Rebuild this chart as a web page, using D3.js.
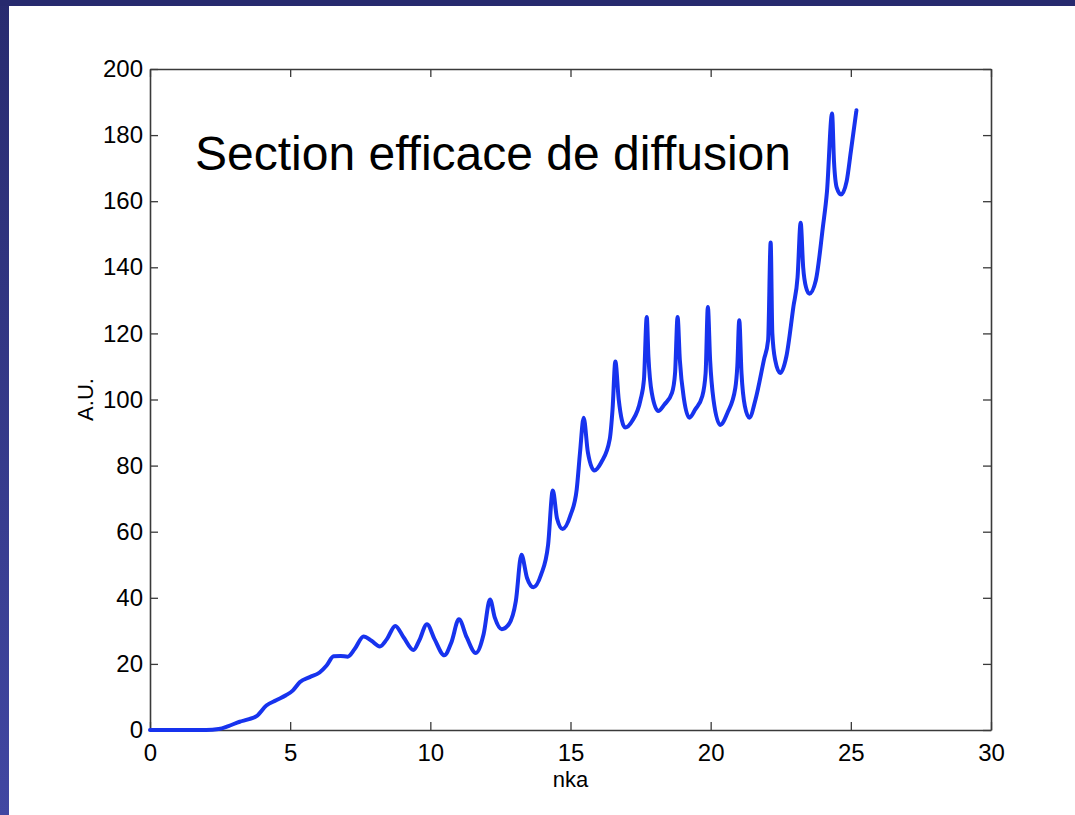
<!DOCTYPE html>
<html>
<head>
<meta charset="utf-8">
<script src="https://cdn.jsdelivr.net/npm/d3@7"></script>
<style>
  html, body { margin: 0; padding: 0; background: #fff; }
  svg { display: block; }
</style>
</head>
<body>
<script>
// Scattering cross-section versus nka (arbitrary units)
const nka = [
  0, 1, 2, 2.45, 2.8, 3.2, 3.5, 3.8, 4.15, 4.5, 4.85, 5.1, 5.35, 5.7, 6.05, 6.3, 6.55, 6.8, 7.05, 7.3,
  7.62, 7.9, 8.2, 8.45, 8.75, 9.05, 9.4, 9.6, 9.88, 10.15, 10.5, 10.75, 11.02, 11.3, 11.62, 11.9,
  12.13, 12.3, 12.55, 12.8, 13.05, 13.25, 13.45, 13.68, 13.95, 14.2, 14.37, 14.52, 14.72, 15.0,
  15.22, 15.34, 15.47, 15.62, 15.85, 16.1, 16.4, 16.5, 16.6, 16.72, 16.95, 17.2, 17.5, 17.62,
  17.72, 17.78, 17.9, 18.13, 18.35, 18.62, 18.73, 18.82, 18.9, 19.05, 19.24, 19.45, 19.7, 19.82,
  19.9, 19.98, 20.1, 20.34, 20.6, 20.88, 20.95, 21.02, 21.1, 21.22, 21.38, 21.6, 21.9, 22.05,
  22.14, 22.2, 22.3, 22.48, 22.7, 22.95, 23.1, 23.21, 23.3, 23.4, 23.52, 23.75, 24.0, 24.15,
  24.33, 24.4, 24.5, 24.65, 24.85, 25.0, 25.2
];
const sigma = [
  0, 0, 0, 0.3, 1.2, 2.5, 3.2, 4.2, 7.4, 9.0, 10.5, 12.0, 14.5, 16.0, 17.4, 19.5, 22.3, 22.4, 22.2, 24.5,
  28.3, 27.0, 25.3, 27.5, 31.5, 28.0, 24.2, 27.0, 32.0, 27.5, 22.6, 26.5, 33.5, 28.0, 23.3, 29.0,
  39.5, 34.0, 30.5, 32.0, 39.0, 53.0, 46.0, 43.2, 47.0, 56.0, 72.5, 64.0, 60.8, 65.0,
  72.7, 84.0, 94.5, 84.0, 78.5, 81.0, 88.0, 97.0, 111.5, 100.0, 91.5, 93.5, 100.0, 106.0,
  125.0, 113.0, 102.0, 96.5, 98.5, 102.0, 108.0, 125.0, 112.0, 100.0, 94.5, 97.0, 101.0, 108.0,
  128.0, 112.0, 100.0, 92.3, 96.0, 103.5, 110.0, 124.0, 108.0, 98.0, 94.5, 100.0, 112.0, 118.0,
  147.5, 120.0, 112.0, 108.0, 113.0, 128.0, 137.0, 153.5, 140.0, 134.0, 132.0, 136.0, 152.0, 163.0,
  186.5, 172.0, 164.0, 162.0, 166.0, 175.0, 187.5
];
const xTicks = [0, 5, 10, 15, 20, 25, 30];
const yTicks = [0, 20, 40, 60, 80, 100, 120, 140, 160, 180, 200];
const titleText = "Section efficace de diffusion";
const xLabel = "nka";
const yLabel = "A.U.";

const W = 1075, H = 815;
const plot = { left: 150, right: 991, top: 69, bottom: 730 };

const svg = d3.select("body").append("svg")
  .attr("width", W).attr("height", H);

// slide frame
const defs = svg.append("defs");
const grad = defs.append("linearGradient").attr("id", "frameGrad")
  .attr("x1", 0).attr("y1", 0).attr("x2", 0).attr("y2", 1);
grad.append("stop").attr("offset", "0%").attr("stop-color", "#282b6f");
grad.append("stop").attr("offset", "100%").attr("stop-color", "#4147a2");

svg.append("rect").attr("width", W).attr("height", H).attr("fill", "#ffffff");
svg.append("rect").attr("x", 0).attr("y", 0).attr("width", 9).attr("height", H).attr("fill", "url(#frameGrad)");
svg.append("rect").attr("x", 0).attr("y", 0).attr("width", W).attr("height", 6).attr("fill", "#272a6e");

const x = d3.scaleLinear().domain([0, 30]).range([plot.left, plot.right]);
const y = d3.scaleLinear().domain([0, 200]).range([plot.bottom, plot.top]);

const axisColor = "#3a3a3a";
const tickLen = 8;
const font = "Arial, 'Liberation Sans', Helvetica, sans-serif";

// bottom axis with labels
const gx = svg.append("g").attr("transform", `translate(0,${plot.bottom})`)
  .call(d3.axisBottom(x).tickValues(xTicks).tickSizeInner(-tickLen).tickSizeOuter(0).tickPadding(14).tickFormat(d3.format("d")));
// top axis mirrored ticks
const gxt = svg.append("g").attr("transform", `translate(0,${plot.top})`)
  .call(d3.axisTop(x).tickValues(xTicks).tickSizeInner(-tickLen).tickSizeOuter(0).tickFormat(""));
// left axis with labels
const gy = svg.append("g").attr("transform", `translate(${plot.left},0)`)
  .call(d3.axisLeft(y).tickValues(yTicks).tickSizeInner(-tickLen).tickSizeOuter(0).tickPadding(7).tickFormat(d3.format("d")));
// right axis mirrored ticks
const gyr = svg.append("g").attr("transform", `translate(${plot.right},0)`)
  .call(d3.axisRight(y).tickValues(yTicks).tickSizeInner(-tickLen).tickSizeOuter(0).tickFormat(""));

[gx, gxt, gy, gyr].forEach(g => {
  g.select(".domain").attr("stroke", axisColor).attr("stroke-width", 1.6);
  g.selectAll(".tick line").attr("stroke", axisColor).attr("stroke-width", 1.3);
  g.selectAll(".tick text").attr("fill", "#000").attr("font-family", font).attr("font-size", 24);
});

// data curve
const pts = nka.map((v, i) => [v, sigma[i]]);
const line = d3.line()
  .x(d => x(d[0])).y(d => y(d[1]))
  .curve(d3.curveMonotoneX);
svg.append("path").datum(pts)
  .attr("d", line)
  .attr("fill", "none")
  .attr("stroke", "#1733ee")
  .attr("stroke-width", 4)
  .attr("stroke-linejoin", "round")
  .attr("stroke-linecap", "round");

// title inside the axes
svg.append("text")
  .attr("x", 195).attr("y", 170)
  .attr("font-family", font).attr("font-size", 48)
  .attr("fill", "#000")
  .text(titleText);

// axis labels
svg.append("text")
  .attr("x", (plot.left + plot.right) / 2).attr("y", 787)
  .attr("text-anchor", "middle")
  .attr("font-family", font).attr("font-size", 22)
  .attr("fill", "#000")
  .text(xLabel);

svg.append("text")
  .attr("transform", `translate(93,${(plot.top + plot.bottom) / 2}) rotate(-90)`)
  .attr("text-anchor", "middle")
  .attr("font-family", font).attr("font-size", 22)
  .attr("fill", "#000")
  .text(yLabel);
</script>
</body>
</html>
